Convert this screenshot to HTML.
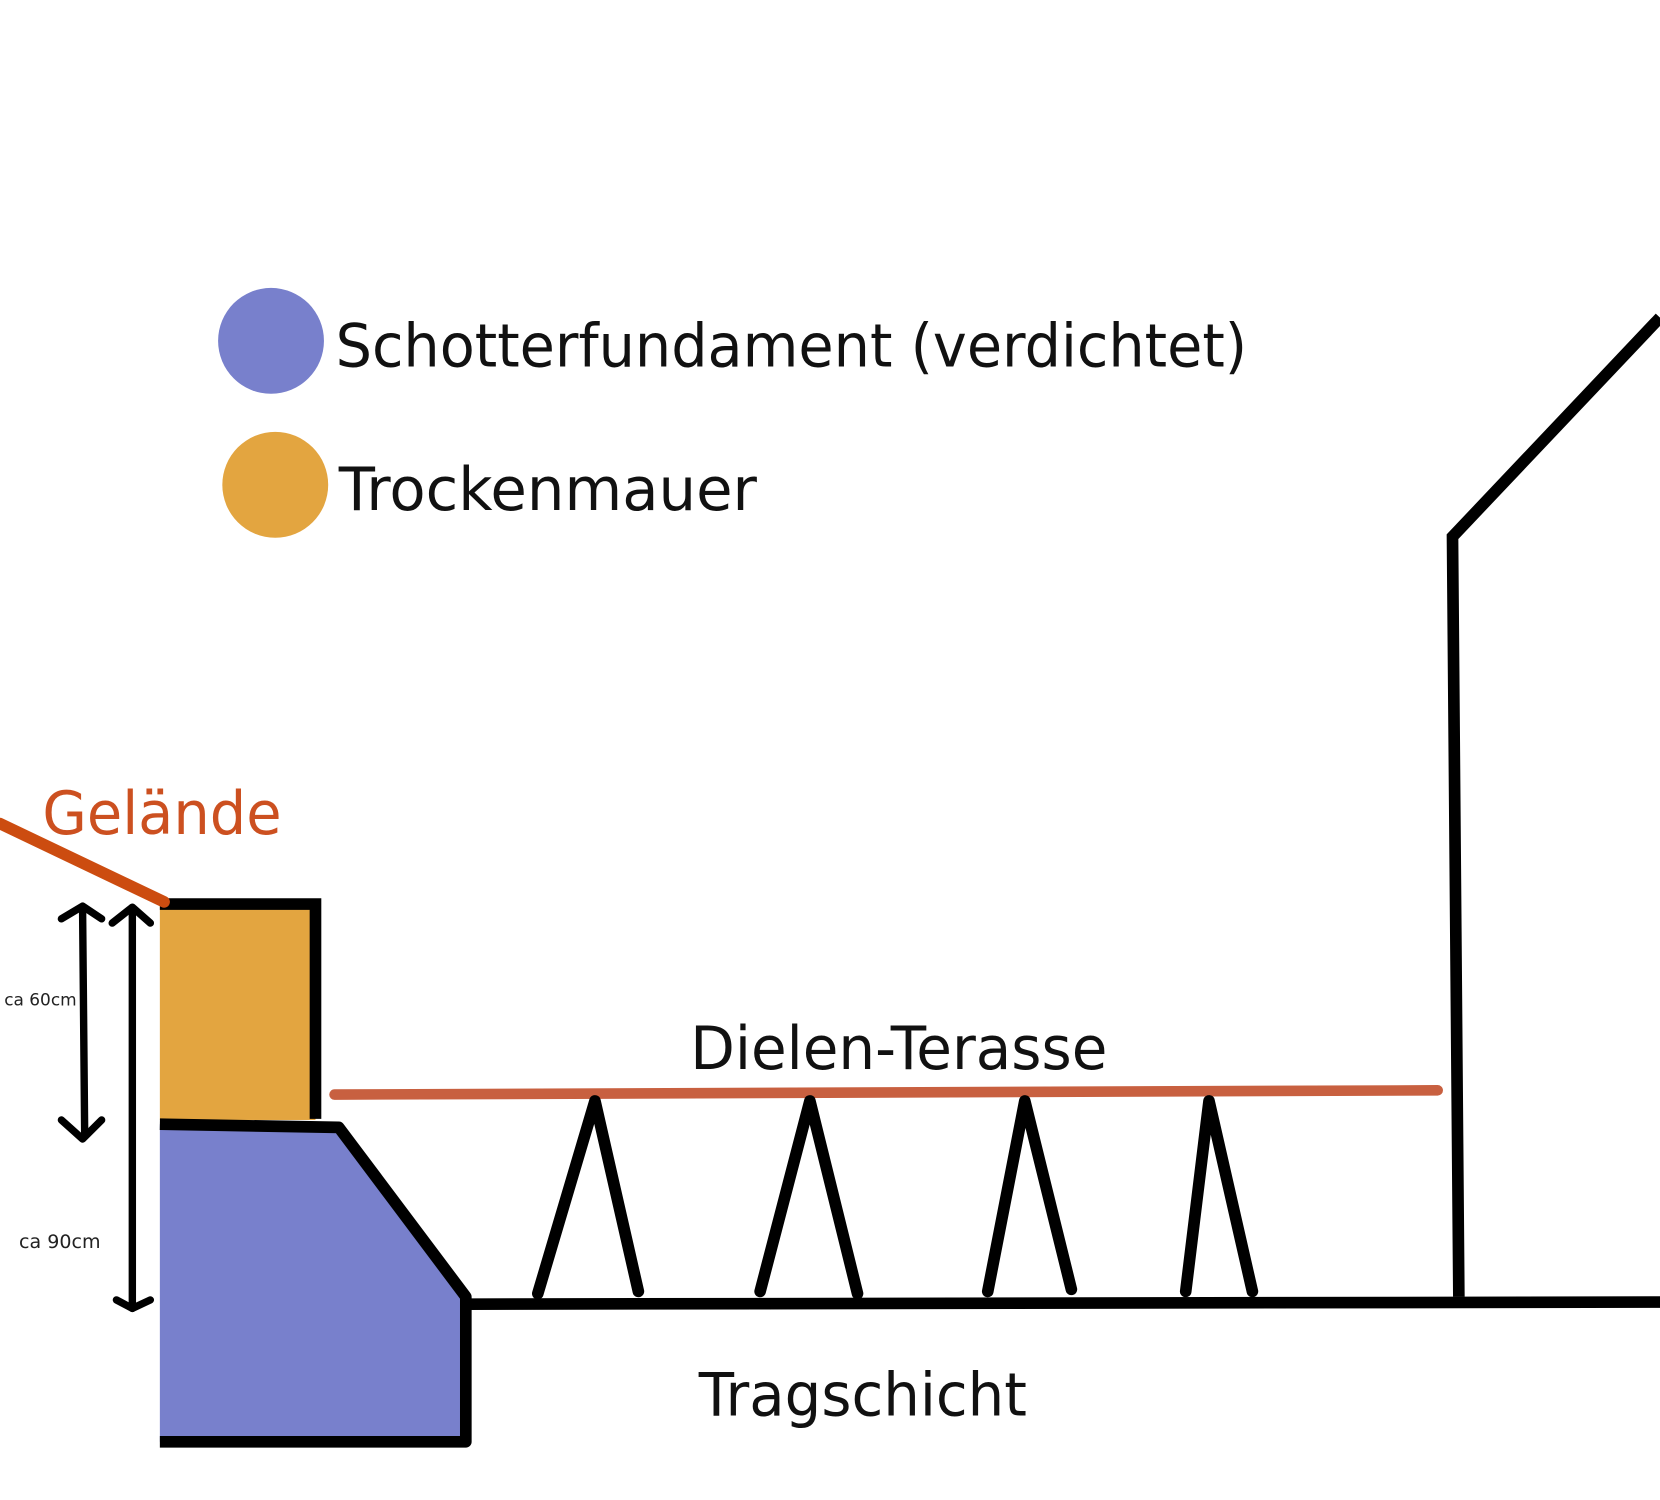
<!DOCTYPE html>
<html><head><meta charset="utf-8"><style>html,body{margin:0;padding:0;background:#fff}svg{display:block}</style></head>
<body>
<svg width="1660" height="1500" viewBox="0 0 1568 1417" preserveAspectRatio="none" xmlns="http://www.w3.org/2000/svg" font-family="'DejaVu Sans','Liberation Sans',sans-serif">
<circle cx="256" cy="322" r="50" fill="#7880cc"/>
<text x="317" y="346" font-size="56" fill="#111" textLength="861" lengthAdjust="spacingAndGlyphs">Schotterfundament (verdichtet)</text>
<circle cx="260" cy="458" r="50" fill="#e3a540"/>
<text x="320" y="482" font-size="56" fill="#111" textLength="395" lengthAdjust="spacingAndGlyphs">Trockenmauer</text>
<text x="40" y="788" font-size="56" fill="#cc5020" textLength="226" lengthAdjust="spacingAndGlyphs">Gelände</text>
<rect x="151" y="853" width="147" height="205" fill="#e3a540"/>
<polyline points="151,854 298,854 298,1057" fill="none" stroke="#000" stroke-width="11"/>
<line x1="0" y1="778" x2="155" y2="852" stroke="#cc4c10" stroke-width="11" stroke-linecap="round"/>
<polygon points="151,1062 320,1065 440,1225 440,1362 151,1362" fill="#7880cc"/>
<polyline points="151,1062 320,1065 440,1225 440,1362 151,1362" fill="none" stroke="#000" stroke-width="11" stroke-linejoin="round"/>
<line x1="440" y1="1232" x2="1568" y2="1230" stroke="#000" stroke-width="11"/>
<polyline points="1378,1225 1372,507 1568,300" fill="none" stroke="#000" stroke-width="11"/>
<line x1="316" y1="1034" x2="1358" y2="1030" stroke="#c86040" stroke-width="10" stroke-linecap="round"/>
<g fill="none" stroke="#000" stroke-width="11" stroke-linejoin="round" stroke-linecap="round">
<polyline points="508,1222 562,1040 603,1220"/>
<polyline points="718,1220 765,1040 810,1222"/>
<polyline points="933,1220 968,1040 1012,1218"/>
<polyline points="1120,1220 1142,1040 1183,1220"/>
</g>
<text x="652" y="1010" font-size="56" fill="#111" textLength="394" lengthAdjust="spacingAndGlyphs">Dielen-Terasse</text>
<text x="660" y="1337" font-size="56" fill="#111" textLength="310" lengthAdjust="spacingAndGlyphs">Tragschicht</text>
<g fill="none" stroke="#000" stroke-width="7" stroke-linecap="round" stroke-linejoin="round">
<line x1="78" y1="858" x2="80" y2="1073"/>
<polyline points="58,868 78,856 96,868"/>
<polyline points="58,1058 78,1076 96,1058"/>
<line x1="125" y1="858" x2="125" y2="1236"/>
<polyline points="106,872 125,857 142,872"/>
<polyline points="110,1228 125,1236 142,1228"/>
</g>
<text x="4" y="950" font-size="16" fill="#222">ca 60cm</text>
<text x="18" y="1179" font-size="18" fill="#222">ca 90cm</text>
</svg>
</body></html>
